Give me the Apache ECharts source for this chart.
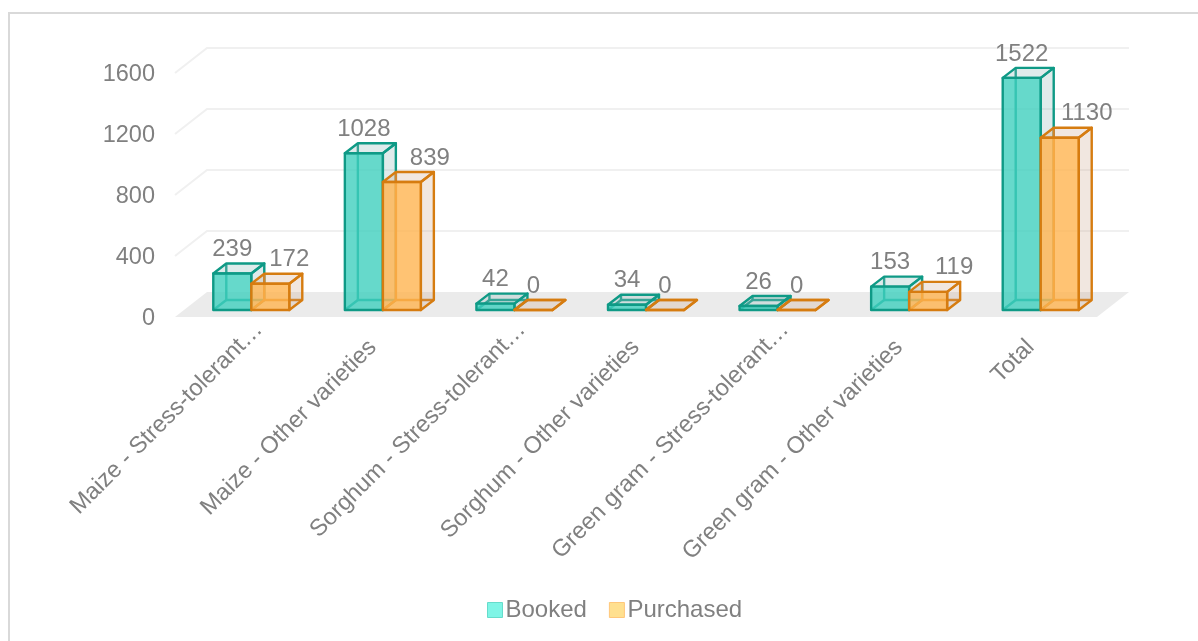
<!DOCTYPE html>
<html>
<head>
<meta charset="utf-8">
<title>Booked and purchased seed</title>
<script src="https://cdn.jsdelivr.net/npm/echarts@6/dist/echarts.min.js"></script>
<style>
  html, body { margin: 0; padding: 0; background: #fff; }
  #chart { width: 1198px; height: 641px; }
</style>
</head>
<body>
<div id="chart"></div>
<script>
var categories = [
  'Maize - Stress-tolerant…',
  'Maize - Other varieties',
  'Sorghum - Stress-tolerant…',
  'Sorghum - Other varieties',
  'Green gram - Stress-tolerant…',
  'Green gram - Other varieties',
  'Total'
];
var booked = [239, 1028, 42, 34, 26, 153, 1522];
var purchased = [172, 839, 0, 0, 0, 119, 1130];
var yTicks = [0, 400, 800, 1200, 1600];

// pseudo 3d look of the office chart
var depthX = 32, depthY = 25;   // floor and wall depth
var boxX = 13, boxY = 10;       // depth of one bar
var barW = 38;
var lift = 7;                   // bars stand in the middle of the floor
var plotShift = 18;             // axis labels hang right of the marks, so the grid sits this far right
var textColor = '#808080';
var font = '"Liberation Sans", Arial, sans-serif';

// purchased labels were dragged sideways in the original
var purchasedLabelShift = [19, 28, 0, 0, 0, 26, 27];

var myChart = echarts.init(document.getElementById('chart'), null, { renderer: 'canvas' });

function wallItem(params, api) {
  var cs = params.coordSys;
  var left = cs.x - plotShift;
  var right = left + cs.width + 1;
  var y = api.coord([0, api.value(0)])[1];
  var children = [];
  if (api.value(0) === 0) {
    children.push({
      type: 'polygon',
      shape: { points: [[left, y], [left + depthX, y - depthY], [right + depthX, y - depthY], [right, y]] },
      style: { fill: '#ebebeb' }
    });
  } else {
    children.push({
      type: 'polyline',
      shape: { points: [[left, y], [left + depthX, y - depthY], [right + depthX, y - depthY]] },
      style: { fill: 'none', stroke: '#f0f0f0', lineWidth: 2 }
    });
  }
  return { type: 'group', children: children };
}

function boxItem(side, front, face, edge, shifts) {
  return function (params, api) {
    var i = api.value(0);
    var value = api.value(1);
    var base = api.coord([i, 0]);
    var x0 = base[0] - plotShift + 10.5 + (side < 0 ? -barW : 0);
    var x1 = x0 + barW;
    var yb = base[1] - lift;
    var yt = api.coord([i, value])[1] - lift;
    var lw = 2.4;
    var edgeStyle = { fill: 'none', stroke: edge, lineWidth: lw, lineJoin: 'round' };
    return {
      type: 'group',
      children: [
        // back edges show through the glass
        { type: 'polyline', shape: { points: [[x0 + boxX, yt - boxY], [x0 + boxX, yb - boxY], [x1 + boxX, yb - boxY]] }, style: edgeStyle },
        { type: 'line', shape: { x1: x0, y1: yb, x2: x0 + boxX, y2: yb - boxY }, style: edgeStyle },
        // side
        { type: 'polygon', shape: { points: [[x1, yt], [x1 + boxX, yt - boxY], [x1 + boxX, yb - boxY], [x1, yb]] }, style: { fill: face, stroke: edge, lineWidth: lw, lineJoin: 'round' } },
        // top
        { type: 'polygon', shape: { points: [[x0, yt], [x0 + boxX, yt - boxY], [x1 + boxX, yt - boxY], [x1, yt]] }, style: { fill: face, stroke: edge, lineWidth: lw, lineJoin: 'round' } },
        // front
        { type: 'rect', shape: { x: x0, y: yt, width: barW, height: yb - yt }, style: { fill: front, stroke: edge, lineWidth: lw, lineJoin: 'round' } },
        {
          type: 'text',
          style: {
            x: (x0 + x1) / 2 + (shifts ? shifts[i] : 0),
            y: yt - boxY - 14,
            text: String(value),
            align: 'center',
            verticalAlign: 'middle',
            fill: textColor,
            font: '24px ' + font
          }
        }
      ]
    };
  };
}

var option = {
  animation: false,
  textStyle: { fontFamily: font },
  graphic: [{
    type: 'rect',
    shape: { x: 9, y: 13, width: 1300, height: 800 },
    style: { fill: 'none', stroke: '#d9d9d9', lineWidth: 2 },
    silent: true
  }],
  legend: {
    left: 482,
    top: 593,
    itemWidth: 15,
    itemHeight: 15,
    itemGap: 22,
    textStyle: { fontSize: 24, color: textColor, padding: [0, 0, 0, -2] },
    data: [
      { name: 'Booked', icon: 'rect', itemStyle: { color: '#7ff5e6', borderColor: '#66dccb', borderWidth: 1 } },
      { name: 'Purchased', icon: 'rect', itemStyle: { color: '#ffe08f', borderColor: '#ffc77a', borderWidth: 1 } }
    ]
  },
  grid: { left: 175 + plotShift, top: 73, width: 921, height: 244 },
  xAxis: {
    type: 'category',
    data: categories,
    axisLine: { show: false },
    axisTick: { show: false },
    splitLine: { show: false },
    axisLabel: {
      interval: 0,
      rotate: 45,
      margin: 9,
      fontSize: 23.6,
      color: textColor,
      // the cut off names sit closer to the axis, like in the original
      formatter: function (name) {
        return name.indexOf('…') > 0 ? name : '{far|' + name + '}';
      },
      rich: { far: { fontSize: 23.6, color: textColor, padding: [0, 25, 0, 0] } }
    }
  },
  yAxis: {
    type: 'value',
    min: 0,
    max: 1600,
    interval: 400,
    axisLine: { show: false },
    axisTick: { show: false },
    splitLine: { show: false },
    axisLabel: {
      margin: 20 + plotShift,
      color: textColor,
      formatter: function (v) { return '{t|' + v + '}'; },
      rich: { t: { fontSize: 23.5, color: textColor, padding: [4, 0, 0, 0] } }
    }
  },
  series: [
    {
      name: 'wall',
      type: 'custom',
      clip: false,
      silent: true,
      renderItem: wallItem,
      encode: { y: 0 },
      data: yTicks.map(function (t) { return [t]; })
    },
    {
      name: 'Booked',
      type: 'custom',
      clip: false,
      renderItem: boxItem(-1, 'rgba(64,208,190,0.8)', 'rgba(150,190,190,0.3)', '#0f9a86', null),
      encode: { x: 0, y: 1 },
      itemStyle: { color: '#7ff5e6' },
      data: booked.map(function (v, i) { return [i, v]; })
    },
    {
      name: 'Purchased',
      type: 'custom',
      clip: false,
      renderItem: boxItem(1, 'rgba(255,180,80,0.8)', 'rgba(200,160,130,0.25)', '#d67c10', purchasedLabelShift),
      encode: { x: 0, y: 1 },
      itemStyle: { color: '#ffe08f' },
      data: purchased.map(function (v, i) { return [i, v]; })
    }
  ]
};

option && myChart.setOption(option);
</script>
</body>
</html>
